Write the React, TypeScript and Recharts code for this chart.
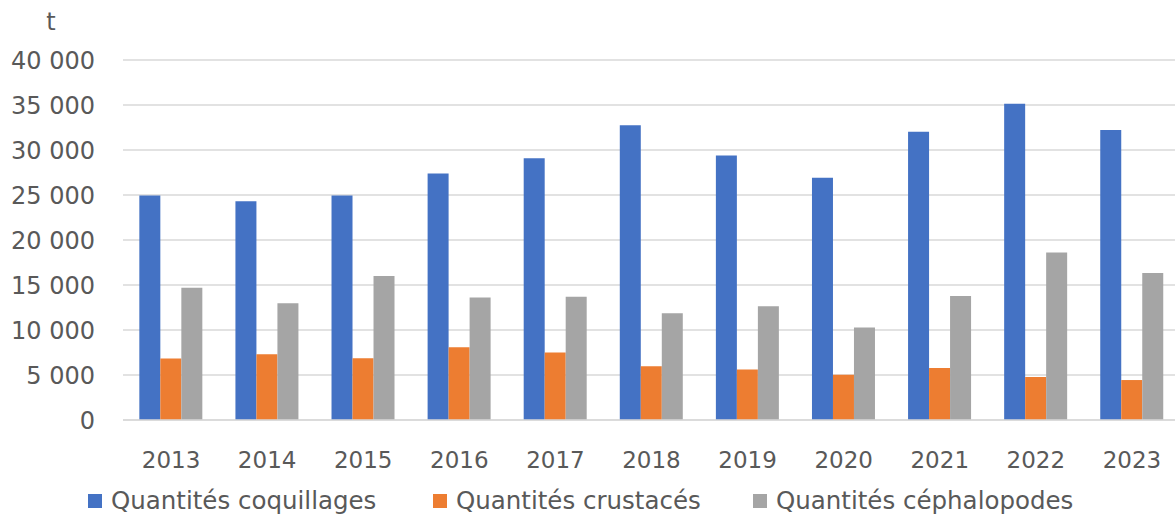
import { BarChart, Bar, XAxis, YAxis, CartesianGrid, Legend } from "recharts";

const YEARS = ["2013", "2014", "2015", "2016", "2017", "2018", "2019", "2020", "2021", "2022", "2023"];

// tonnes landed per year
const COQUILLAGES = [24950, 24300, 24950, 27400, 29080, 32750, 29400, 26930, 32040, 35150, 32220];
const CRUSTACES = [6820, 7300, 6850, 8070, 7490, 5970, 5600, 5040, 5780, 4780, 4440];
const CEPHALOPODES = [14700, 12970, 16000, 13600, 13700, 11860, 12630, 10270, 13780, 18600, 16330];

const Y_TICKS = [0, 5000, 10000, 15000, 20000, 25000, 30000, 35000, 40000];

const SERIES = [
  { key: "coquillages", name: "Quantités coquillages", color: "#4472C4" },
  { key: "crustaces", name: "Quantités crustacés", color: "#ED7D31" },
  { key: "cephalopodes", name: "Quantités céphalopodes", color: "#A5A5A5" },
];

const FONT = "'DejaVu Sans', sans-serif";
const TEXT = "#595959";
const GRID = "#d9d9d9";

const data = YEARS.map((year, i) => ({
  year,
  coquillages: COQUILLAGES[i],
  crustaces: CRUSTACES[i],
  cephalopodes: CEPHALOPODES[i],
}));

// "40000" -> "40 000"
const formatTonnes = (v: number) => String(v).replace(/\B(?=(\d{3})+(?!\d))/g, " ");

const LEGEND_LEFT = [88, 433, 753];

function LegendRow() {
  return (
    <div style={{ position: "relative", height: 28, fontFamily: FONT, fontSize: 24.5, color: TEXT }}>
      {SERIES.map((s, i) => (
        <div
          key={s.key}
          style={{ position: "absolute", left: LEGEND_LEFT[i], top: 0, display: "flex", alignItems: "center", whiteSpace: "nowrap" }}
        >
          <span style={{ width: 14, height: 14, background: s.color, marginRight: 9 }} />
          <span>{s.name}</span>
        </div>
      ))}
    </div>
  );
}

export default function App() {
  return (
    <div style={{ position: "absolute", left: 0, top: 0, width: 1175, height: 516, overflow: "hidden", background: "#fff" }}>
      <BarChart
        width={1185}
        height={516}
        data={data}
        margin={{ top: 60, right: 5, left: 0, bottom: 0 }}
        barCategoryGap="17%"
        barGap={0}
      >
        <CartesianGrid vertical={false} stroke={GRID} strokeWidth={1.5} />
        <XAxis
          dataKey="year"
          height={96}
          axisLine={{ stroke: GRID, strokeWidth: 1.5 }}
          tickLine={false}
          tickSize={0}
          tickMargin={32}
          tick={{ fill: TEXT, fontSize: 23, fontFamily: FONT }}
        />
        <YAxis
          width={123}
          domain={[0, 40000]}
          ticks={Y_TICKS}
          interval={0}
          axisLine={false}
          tickLine={false}
          tickSize={0}
          tickMargin={28}
          tickFormatter={formatTonnes}
          tick={{ fill: TEXT, fontSize: 24, fontFamily: FONT }}
          label={{
            content: () => (
              <text x={51} y={30} textAnchor="middle" fill={TEXT} fontSize={24} fontFamily={FONT}>
                t
              </text>
            ),
          }}
        />
        <Legend
          layout="horizontal"
          align="center"
          verticalAlign="middle"
          wrapperStyle={{ top: 486, left: 0, width: 1175 }}
          content={() => <LegendRow />}
        />
        {SERIES.map((s) => (
          <Bar key={s.key} dataKey={s.key} name={s.name} fill={s.color} isAnimationActive={false} />
        ))}
      </BarChart>
    </div>
  );
}
